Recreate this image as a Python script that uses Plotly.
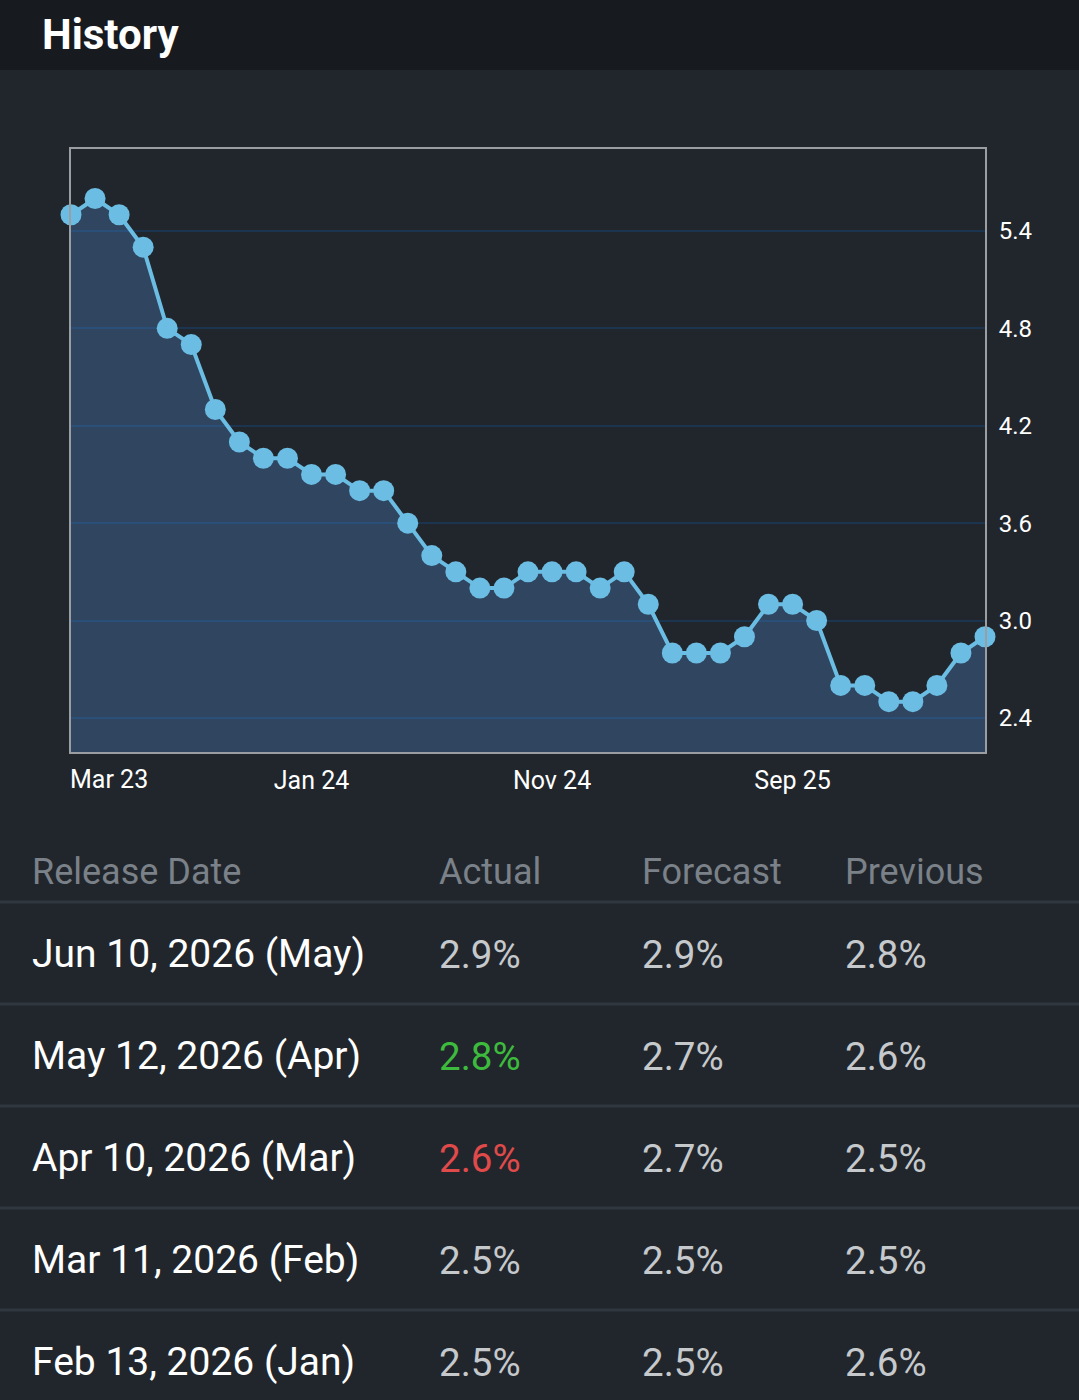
import plotly.graph_objects as go
import pandas as pd

# ---- data ----
months = [d.strftime("%b %y") for d in pd.date_range("2023-03-01", "2026-05-01", freq="MS")]
values = [5.5, 5.6, 5.5, 5.3, 4.8, 4.7, 4.3, 4.1, 4.0, 4.0,
          3.9, 3.9, 3.8, 3.8, 3.6, 3.4, 3.3, 3.2, 3.2, 3.3,
          3.3, 3.3, 3.2, 3.3, 3.1, 2.8, 2.8, 2.8, 2.9, 3.1,
          3.1, 3.0, 2.6, 2.6, 2.5, 2.5, 2.6, 2.8, 2.9]
x_tick_labels = ["Jan 24", "Nov 24", "Sep 25"]
first_label = "Mar 23"
y_ticks = [2.4, 3.0, 3.6, 4.2, 4.8, 5.4]

table_headers = ["Release Date", "Actual", "Forecast", "Previous"]
release_dates = ["Jun 10, 2026 (May)", "May 12, 2026 (Apr)", "Apr 10, 2026 (Mar)",
                 "Mar 11, 2026 (Feb)", "Feb 13, 2026 (Jan)"]
actual = ["2.9%", "2.8%", "2.6%", "2.5%", "2.5%"]
forecast = ["2.9%", "2.7%", "2.7%", "2.5%", "2.5%"]
previous = ["2.8%", "2.6%", "2.5%", "2.5%", "2.6%"]
actual_colors = ["#c6c9cc", "#3dbb3d", "#e04a4a", "#c6c9cc", "#c6c9cc"]

# ---- layout geometry ----
W, H = 1079, 1400
L, R, T, B = 71, 985, 149, 752
BG = "#21262c"
FONT = "Roboto"

def py(p):  # pixel y -> paper y
    return (B - p) / (B - T)

def px(p):  # pixel x -> paper x
    return (p - L) / (R - L)

fig = go.Figure()
fig.add_trace(go.Scatter(
    x=months, y=values, mode="lines+markers",
    line=dict(color="#6bbde3", width=4),
    marker=dict(color="#6bbde3", size=21),
    fill="tozeroy", fillcolor="rgba(80,141,217,0.30)",
    cliponaxis=False, hoverinfo="x+y", showlegend=False,
))

shapes = [
    dict(type="rect", xref="paper", yref="paper", x0=px(0), x1=px(W), y0=py(0), y1=py(70),
         fillcolor="#171b20", line=dict(width=0), layer="below"),
]
annotations = [
    dict(text="<b>History</b>", xref="paper", yref="paper", x=px(40), y=py(35),
         xanchor="left", yanchor="middle", showarrow=False,
         font=dict(family=FONT, size=42, color="#ffffff")),
    dict(text=first_label, xref="x", yref="paper", x=months[0], y=py(779),
         xanchor="left", yanchor="middle", showarrow=False, xshift=-3,
         font=dict(family=FONT, size=25, color="#ffffff")),
]

col_x = [30, 437, 640, 843]
for cx, h in zip(col_x, table_headers):
    annotations.append(dict(text=h, xref="paper", yref="paper", x=px(cx), y=py(872),
                            xanchor="left", yanchor="middle", showarrow=False,
                            font=dict(family=FONT, size=36, color="#7b8188")))
sep_y = [902, 1004, 1106, 1208, 1310]
for sy in sep_y:
    shapes.append(dict(type="line", xref="paper", yref="paper", x0=px(0), x1=px(W),
                       y0=py(sy), y1=py(sy), line=dict(color="#31373e", width=3)))
row_y = [954, 1056, 1158, 1260, 1362]
for i, ry in enumerate(row_y):
    cells = [(release_dates[i], "#ffffff"), (actual[i], actual_colors[i]),
             (forecast[i], "#c6c9cc"), (previous[i], "#c6c9cc")]
    for j, (cx, (t, c)) in enumerate(zip(col_x, cells)):
        annotations.append(dict(text=t, xref="paper", yref="paper", x=px(cx), y=py(ry),
                                xanchor="left", yanchor="middle", showarrow=False,
                                font=dict(family=FONT, size=39 if j == 0 else 38.5, color=c)))

tick_idx = [months.index(m) for m in x_tick_labels]

fig.update_layout(
    width=W, height=H, autosize=False,
    margin=dict(l=L, r=W - R, t=T, b=H - B, pad=0),
    paper_bgcolor=BG, plot_bgcolor=BG,
    font=dict(family=FONT, color="#ffffff"),
    shapes=shapes, annotations=annotations,
    xaxis=dict(type="category", range=[0, len(months) - 1],
               tickmode="array", tickvals=[months[i] for i in tick_idx], ticktext=x_tick_labels,
               showgrid=False, zeroline=False, ticks="", ticklabelstandoff=5,
               tickfont=dict(family=FONT, size=25, color="#ffffff"),
               showline=True, mirror=True, linecolor="#9a9ea3", linewidth=2),
    yaxis=dict(range=[2.19, 5.905], side="right", tickmode="array", tickvals=y_ticks,
               ticktext=[f"{v:.1f}" for v in y_ticks],
               showgrid=True, gridcolor="#1b3550", gridwidth=2, zeroline=False,
               ticks="", ticklabelstandoff=7,
               tickfont=dict(family=FONT, size=24, color="#ffffff"),
               showline=True, mirror=True, linecolor="#9a9ea3", linewidth=2),
)

fig.write_html("out.html")
